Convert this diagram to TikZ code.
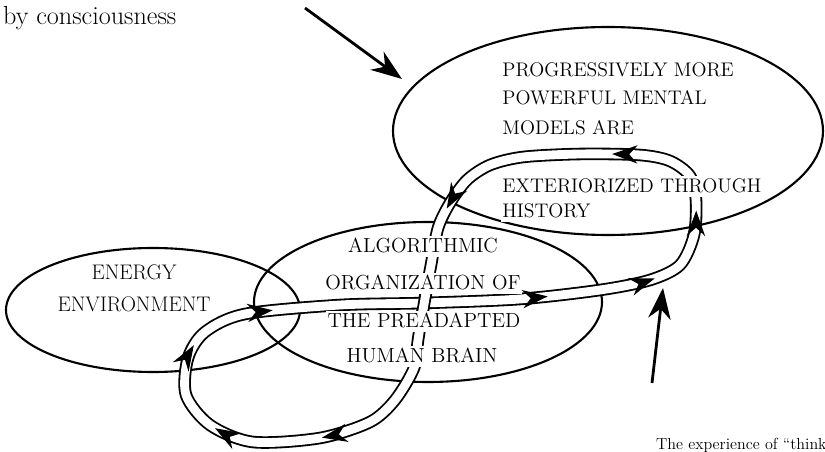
\documentclass[tikz,border=0pt]{standalone}
\usepackage{tikz}
\usetikzlibrary{arrows.meta}
\usetikzlibrary{decorations.markings}
% centre line of the loop, in travel order
\newcommand\ribbon{plot[smooth cycle] coordinates {(414,368) (395,400) (370,422) (320,438) (253,442) (210,425) (186,395) (188,358) (205,332) (245,314) (340,305) (424,303) (520,299) (600,290) (650,280) (680,265) (694,235) (696,200) (690,176) (670,161) (640,155) (580,154) (523,157) (490,165) (467,180) (450,203) (438,228) (431,265) (424,303) (418,340)}}

\begin{document}
\begin{tikzpicture}[x=0.025cm, y=-0.025cm, line width=1.5pt,
        >={Stealth[length=22pt, width=16pt]},
        band/.style={line width=1.3pt, double=white, double distance=6.3pt},
        txt/.style={fill=white, inner xsep=1pt, inner ysep=2.5pt, text height=9.6pt, text depth=0pt, font=\fontsize{14}{16}\selectfont},
        tip/.style={postaction={decoration={markings, mark=at position #1 with {\arrow{Stealth[length=18pt, width=13pt]}}}, decorate}}]
        \useasboundingbox (0,0) rectangle (825,452);
        \clip (0,0) rectangle (825,452);
        \draw (608,131) ellipse [x radius=215, y radius=104];
        \draw (428,302) ellipse [x radius=174, y radius=80];
        \draw (153,310) ellipse [x radius=147, y radius=62];
        \draw[band] \ribbon;
        \draw[band] (428.6,278) -- (420.9,322);
        \node[txt, anchor=base west] (pm1) at (500,77) {PROGRESSIVELY MORE};
        \node[txt, anchor=base west] (pm2) at (500,105) {POWERFUL MENTAL};
        \node[txt, anchor=base west] (pm3) at (500,135) {MODELS ARE};
        \node[txt, anchor=base west] (pm4) at (500,193) {EXTERIORIZED THROUGH};
        \node[txt, anchor=base west] (pm5) at (500,218) {HISTORY};
        \node[txt, anchor=base, font=\fontsize{14.5}{16}\selectfont] (br1) at (423,253) {ALGORITHMIC};
        \node[txt, anchor=base, font=\fontsize{14.5}{16}\selectfont] (br2) at (423,290) {ORGANIZATION OF};
        \node[txt, anchor=base, font=\fontsize{14.5}{16}\selectfont] (br3) at (424,328) {THE PREADAPTED};
        \node[txt, anchor=base, font=\fontsize{14.5}{16}\selectfont] (br4) at (422,363) {HUMAN BRAIN};
        \node[txt, anchor=base, font=\fontsize{15}{17}\selectfont] (en1) at (134,280) {ENERGY};
        \node[txt, anchor=base, font=\fontsize{15}{17}\selectfont] (en2) at (134,312) {ENVIRONMENT};
        \path[tip/.list={0.062,0.143,0.214,0.28,0.483,0.563,0.627,0.715,0.852}] \ribbon;
        \node[anchor=base west, inner sep=0pt, font=\fontsize{18.6}{22}\selectfont] (cons) at (2,25) {by consciousness};
        \node[anchor=base west, inner sep=0pt, font=\fontsize{11.4}{14}\selectfont] (think) at (655,450) {The experience of “think};
        \coordinate (from1) at (305,8);
        \coordinate (to1) at (402,79);
        \coordinate (from2) at (652,383);
        \coordinate (to2) at (663,288);
        \draw[->, line width=2pt] (from1) -- (to1);
        \draw[->, line width=2pt] (from2) -- (to2);
    \end{tikzpicture}
\end{document}
